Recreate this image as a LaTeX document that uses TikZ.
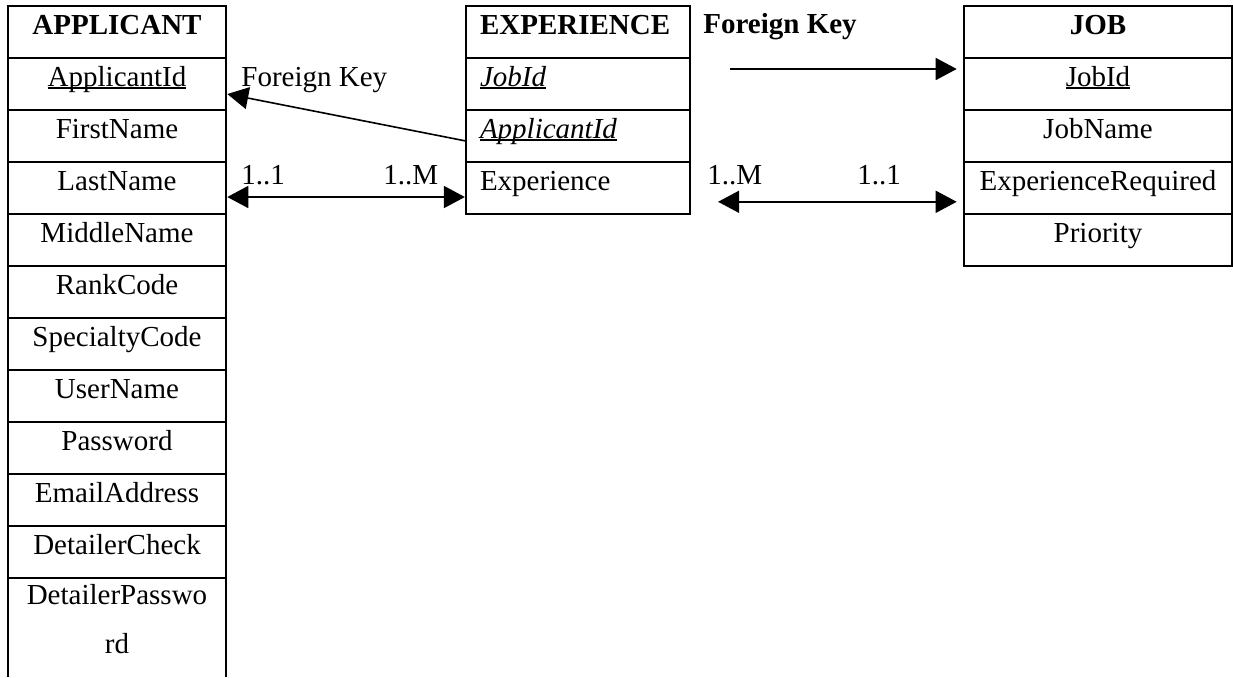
\documentclass[tikz,border=0pt]{standalone}
\usepackage{fontspec}
\setmainfont{Liberation Serif}
\usetikzlibrary{arrows.meta,calc}

% underline at a fixed depth, cutting through descenders
\newsavebox\keybox
\newcommand\keyul[1]{\sbox\keybox{#1}\rlap{\rule[-1.3pt]{\wd\keybox}{0.7pt}}\usebox\keybox}

\tikzset{
  txt/.style={font=\fontsize{14.5}{24.5}\selectfont},
  cell/.style={txt, draw, line width=1.1pt, inner xsep=0pt, inner ysep=0pt,
               text height=14pt, text depth=12pt},
  appcell/.style={cell, minimum width=109.2pt},
  expcell/.style={cell, inner xsep=7pt, text width=98pt, align=left},
  jobcell/.style={cell, minimum width=134pt},
  head/.style={font=\fontsize{14.5}{24.5}\selectfont\bfseries},
  link/.style={line width=0.8pt, -{Triangle[length=10.5pt,width=11pt]}},
  twoway/.style={line width=0.8pt, {Triangle[length=10.5pt,width=11pt]}-{Triangle[length=10.5pt,width=11pt]}},
  lbl/.style={txt, inner sep=0pt, anchor=base west}
}

\begin{document}
\begin{tikzpicture}[x=0.5pt,y=-0.5pt]
\useasboundingbox (0,0) rectangle (1233,677);

% APPLICANT table
\node[appcell, head] (ah)  at (117,32)  {APPLICANT};
\node[appcell] (aid) at (117,84)  {\keyul{ApplicantId}};
\node[appcell] (afn) at (117,136) {FirstName};
\node[appcell] (aln) at (117,188) {LastName};
\node[appcell] (amn) at (117,240) {MiddleName};
\node[appcell] (arc) at (117,292) {RankCode};
\node[appcell] (asc) at (117,344) {SpecialtyCode};
\node[appcell] (aun) at (117,396) {UserName};
\node[appcell] (apw) at (117,448) {Password};
\node[appcell] (aem) at (117,500) {EmailAddress};
\node[appcell] (adc) at (117,552) {DetailerCheck};
% last row: open at the bottom, text wraps onto a second line
\node[appcell, draw=none, outer sep=0pt, text height=37.7pt, text depth=11.8pt,
      align=center, anchor=north] (adp) at (117,578) {DetailerPasswo\\rd};
\draw[line width=1.1pt] (adp.north west) -- (adp.south west)
                        (adp.north east) -- (adp.south east);

% EXPERIENCE table
\node[expcell, head] (eh)   at (578,32)  {EXPERIENCE};
\node[expcell] (ejid) at (578,84)  {\keyul{\itshape JobId}};
\node[expcell] (eaid) at (578,136) {\keyul{\itshape ApplicantId}};
\node[expcell] (eexp) at (578,188) {Experience};

% JOB table
\node[jobcell, head] (jh) at (1098,32)  {JOB};
\node[jobcell] (jid)  at (1098,84)  {\keyul{JobId}};
\node[jobcell] (jnm)  at (1098,136) {JobName};
\node[jobcell] (jexp) at (1098,188) {ExperienceRequired};
\node[jobcell] (jpr)  at (1098,240) {Priority};

% relationship labels
\node[lbl] (fk1)  at (241,86)  {Foreign Key};
\node[lbl, font=\fontsize{14.5}{24.5}\selectfont\bfseries] (fk2) at (703,33) {Foreign Key};
\node[lbl] (c11a) at (241,184) {1..1};
\node[lbl] (c1ma) at (383,184) {1..M};
\node[lbl] (c1mb) at (707,184) {1..M};
\node[lbl] (c11b) at (857,184) {1..1};

% connectors
\draw[link] ([yshift=-2.4pt]eaid.west) -- ([yshift=-5pt]aid.east);
\draw[twoway] ([yshift=-4.5pt]aln.east) -- ([yshift=-4.5pt]eexp.west);
\coordinate (fkstart) at (730,69);
\draw[link] (fkstart) -- ([xshift=-3.1pt,yshift=7.5pt]jid.west);
\draw[twoway, shorten <=13.5pt, shorten >=3.1pt]
  ([yshift=-6.9pt]eexp.east) -- ([yshift=-6.9pt]jexp.west);
\end{tikzpicture}
\end{document}
